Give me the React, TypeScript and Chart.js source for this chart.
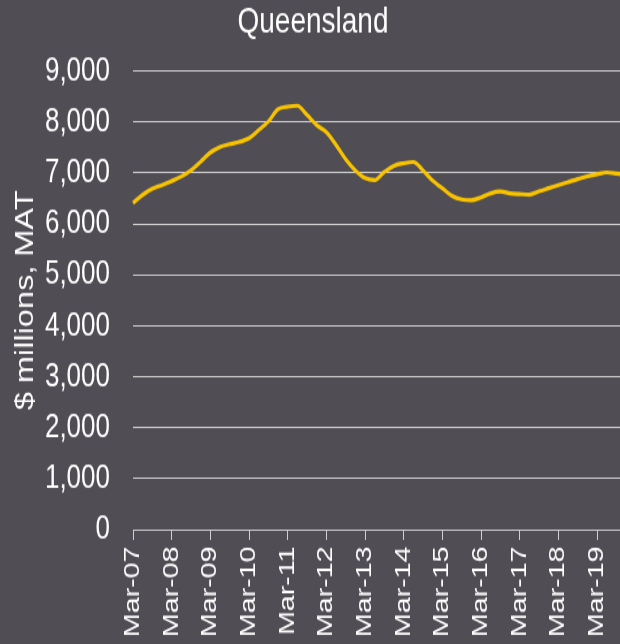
import React, { useEffect, useRef } from "react";
import { Chart, registerables } from "chart.js";

Chart.register(...registerables);

const quarters = ["Mar", "Jun", "Sep", "Dec"];
const years = ["07", "08", "09", "10", "11", "12", "13", "14", "15", "16", "17", "18", "19"];
const labels = years.flatMap((y) => quarters.map((q) => `${q}-${y}`));

const queensland = [
  6410, 6570, 6690, 6760,
  6840, 6930, 7050, 7220,
  7400, 7510, 7565, 7610,
  7680, 7840, 8010, 8250,
  8300, 8320, 8140, 7940,
  7800, 7550, 7270, 7050,
  6900, 6860, 7020, 7140,
  7190, 7215, 7050, 6850,
  6700, 6550, 6480, 6465,
  6520, 6600, 6635, 6600,
  6585, 6575, 6640, 6700,
  6760, 6820, 6880, 6935,
  6975, 7010, 6990, 6960,
];

const yTicks = [0, 1000, 2000, 3000, 4000, 5000, 6000, 7000, 8000, 9000];

const FONT = "'Liberation Sans', Arial, Helvetica, sans-serif";
const BG = "#514D54";
const GRID = "#D0D0D0";
const TEXT = "#FFFFFF";
const LINE = "#F7C300";

const CANVAS_W = 626;
const CANVAS_H = 495;
const STRETCH = 644 / CANVAS_H;

export default function App() {
  const ref = useRef<HTMLCanvasElement | null>(null);

  useEffect(() => {
    const canvas = ref.current;
    if (!canvas) return;
    const chart = new Chart(canvas, {
      type: "line",
      data: {
        labels,
        datasets: [
          {
            label: "Queensland",
            data: queensland,
            borderColor: LINE,
            borderWidth: 3.2,
            pointRadius: 0,
            fill: false,
            cubicInterpolationMode: "monotone",
          },
        ],
      },
      options: {
        responsive: false,
        animation: false,
        devicePixelRatio: 1,
        layout: { padding: { left: 0, right: 0, top: 0, bottom: 0 } },
        plugins: {
          legend: { display: false },
          tooltip: { enabled: false },
          title: {
            display: true,
            text: "Queensland",
            color: TEXT,
            font: { family: FONT, size: 28, weight: "normal", lineHeight: 1.1 },
            padding: { top: 1.5, bottom: 22.3 },
          },
        },
        scales: {
          x: {
            type: "category",
            offset: false,
            grid: {
              drawOnChartArea: false,
              drawTicks: true,
              tickLength: 8,
              color: (ctx: any) => (ctx.index % 4 === 0 ? GRID : "rgba(0,0,0,0)"),
            },
            border: { display: true, color: GRID, width: 1 },
            ticks: {
              autoSkip: false,
              maxRotation: 90,
              minRotation: 90,
              padding: 5,
              color: TEXT,
              font: { family: FONT, size: 22 },
              callback: (_v: any, i: number) => (labels[i].startsWith("Mar") ? labels[i] : ""),
            },
            afterFit: (scale: any) => {
              scale.height = 88;
              scale.paddingLeft = 0;
              scale.paddingRight = 0;
            },
          },
          y: {
            min: yTicks[0],
            max: yTicks[yTicks.length - 1],
            grid: { color: GRID, drawTicks: false, lineWidth: 1 },
            border: { display: false },
            afterBuildTicks: (scale: any) => {
              scale.ticks = yTicks.map((v) => ({ value: v }));
            },
            ticks: {
              color: TEXT,
              padding: 23,
              font: { family: FONT, size: 26 },
              callback: (v: any) => Number(v).toLocaleString("en-US"),
            },
            title: {
              display: true,
              text: "$ millions, MAT",
              color: TEXT,
              font: { family: FONT, size: 25 },
              padding: { top: 11, bottom: 0 },
            },
            afterFit: (scale: any) => {
              scale.width = 133;
            },
          },
        },
      },
    });
    return () => chart.destroy();
  }, []);

  return (
    <div
      style={{
        position: "fixed",
        left: 0,
        top: 0,
        width: 620,
        height: 644,
        overflow: "hidden",
        background: BG,
      }}
    >
      <div style={{ transform: `scaleY(${STRETCH})`, transformOrigin: "0 0", width: CANVAS_W, height: CANVAS_H }}>
        <canvas
          ref={ref}
          width={CANVAS_W}
          height={CANVAS_H}
          style={{ display: "block", width: CANVAS_W, height: CANVAS_H }}
        />
      </div>
    </div>
  );
}
